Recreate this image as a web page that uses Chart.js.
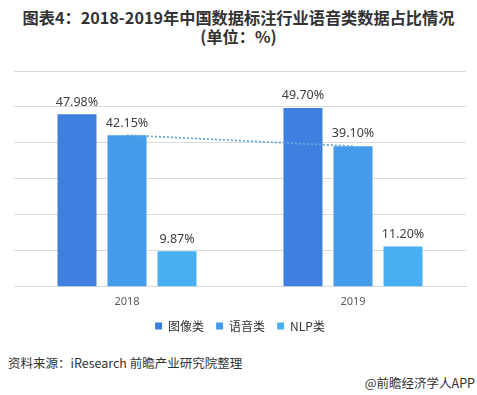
<!DOCTYPE html>
<html>
<head>
<meta charset="utf-8">
<script src="https://cdn.jsdelivr.net/npm/chart.js@4"></script>
<style>
  body { margin: 0; width: 477px; height: 395px; background: #fff; position: relative; overflow: hidden;
         font-family: "Noto Sans CJK SC", "Noto Sans", sans-serif; color: #333; }
  #title { position: absolute; top: 8px; left: 0; width: 477px; text-align: center;
           font-weight: bold; font-size: 16.2px; line-height: 19px; color: #333; }
  #box { position: absolute; left: 0; top: 53px; width: 477px; height: 289px; }
  #source { position: absolute; left: 8px; top: 353px; font-size: 12.5px; color: #333; }
  #brand { position: absolute; right: 2px; top: 373px; font-size: 12.5px; color: #333; }
</style>
</head>
<body>
<div id="title">图表4：2018-2019年中国数据标注行业语音类数据占比情况<br>(单位：%)</div>
<div id="box"><canvas id="myChart"></canvas></div>
<div id="source">资料来源：iResearch 前瞻产业研究院整理</div>
<div id="brand">@前瞻经济学人APP</div>
<script>
const years = ["2018", "2019"];
const imageShare = [47.98, 49.70];
const speechShare = [42.15, 39.10];
const nlpShare = [9.87, 11.20];
const yTicks = [0, 10, 20, 30, 40, 50, 60];

const ctx = document.getElementById('myChart');

// labels on top of the bars
const barLabels = {
    id: 'barLabels',
    afterDatasetsDraw(chart) {
        const c = chart.ctx;
        c.save();
        c.font = '12.5px "Noto Sans", sans-serif';
        c.fillStyle = '#404040';
        c.textAlign = 'center';
        c.textBaseline = 'bottom';
        chart.data.datasets.forEach((ds, i) => {
            if (ds.type === 'line') return;
            chart.getDatasetMeta(i).data.forEach((bar, j) => {
                c.fillText(ds.data[j].toFixed(2) + '%', bar.x, bar.y - 6);
            });
        });
        c.restore();
    }
}

let config = {
    data: {
        labels: years,
        datasets: [
            {
                type: 'line',
                label: 'trend',
                data: speechShare,
                borderColor: '#6AA6DC',
                borderWidth: 1.8,
                borderDash: [2, 2],
                pointRadius: 0,
                fill: false,
                order: 0
            },
            { type: 'bar', label: '图像类', data: imageShare, backgroundColor: '#3F7FDF', order: 1 },
            { type: 'bar', label: '语音类', data: speechShare, backgroundColor: '#439BEA', order: 1 },
            { type: 'bar', label: 'NLP类', data: nlpShare, backgroundColor: '#48B0F2', order: 1 }
        ]
    },
    options: {
        responsive: true,
        maintainAspectRatio: false,
        animation: false,
        layout: { padding: { left: 14, right: 11, top: 18, bottom: 0 } },
        datasets: { bar: { barPercentage: 0.78, categoryPercentage: 0.664 } },
        plugins: {
            tooltip: { enabled: false },
            legend: {
                position: 'bottom',
                labels: {
                    boxWidth: 7,
                    boxHeight: 7,
                    padding: 12,
                    color: '#333',
                    font: { size: 12, family: '"Noto Sans CJK SC", sans-serif' },
                    filter: (item) => item.text !== 'trend'
                }
            }
        },
        scales: {
            x: {
                grid: { display: false },
                border: { color: '#D9D9D9' },
                ticks: { color: '#595959', font: { size: 11, family: '"Noto Sans", sans-serif' }, padding: 0 }
            },
            y: {
                min: 0,
                max: 60,
                afterBuildTicks: (axis) => { axis.ticks = yTicks.map(v => ({ value: v })); },
                ticks: { display: false },
                grid: { color: '#D9D9D9', drawTicks: false },
                border: { display: false }
            }
        }
    },
    plugins: [barLabels]
}

const graph = new Chart(ctx, config);
</script>
</body>
</html>
